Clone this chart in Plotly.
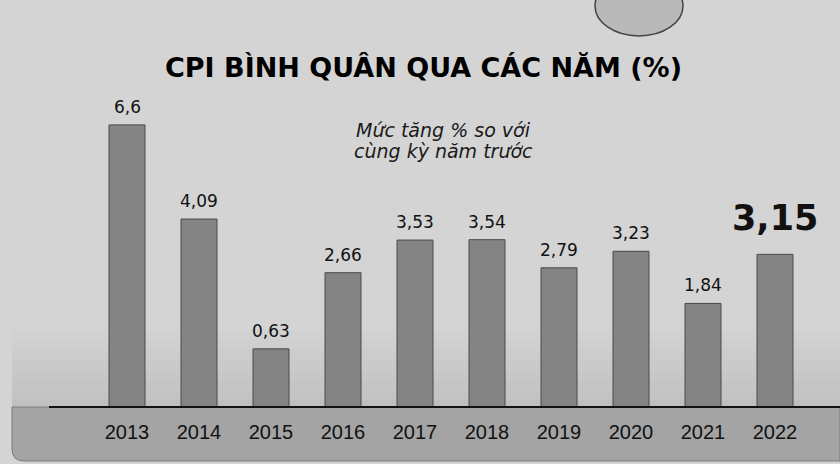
import plotly.graph_objects as go

# ---------------- data ----------------
YEARS = ["2013", "2014", "2015", "2016", "2017", "2018", "2019", "2020", "2021", "2022"]
CPI = [6.6, 4.09, 0.63, 2.66, 3.53, 3.54, 2.79, 3.23, 1.84, 3.15]
HIGHLIGHT_YEAR = "2022"
TITLE = "CPI BÌNH QUÂN QUA CÁC NĂM (%)"
SUBTITLE_LINES = ["Mức tăng % so với", "cùng kỳ năm trước"]

# visual baseline of the original infographic (bars rise from slightly below 0)
BASELINE_VALUE = -0.92
Y_MAX = 7.53

# ---------------- layout geometry ----------------
W, H = 840, 464
ML, MR, MT, MB = 91, 29, 90, 57
PW, PH = W - ML - MR, H - MT - MB


def px(x):
    return (x - ML) / PW


def py(y):
    return (H - MB - y) / PH


BG = "#d4d4d4"
BAR_FILL = "#848484"
BAR_LINE = "#4a4a4a"
INK = "#111111"


def fmt(v):
    return str(v).replace(".", ",")


fig = go.Figure()
fig.add_trace(go.Bar(
    x=YEARS,
    y=[v - BASELINE_VALUE for v in CPI],
    base=BASELINE_VALUE,
    marker=dict(color=BAR_FILL, line=dict(color=BAR_LINE, width=1)),
    hoverinfo="skip",
))

annotations = []
for i, (yr, v) in enumerate(zip(YEARS, CPI)):
    if yr == HIGHLIGHT_YEAR:
        annotations.append(dict(
            x=i, y=v, xref="x", yref="y", text=fmt(v), showarrow=False,
            yanchor="bottom", yshift=14,
            font=dict(family="DejaVu Sans", size=35, color=INK, weight="bold"),
        ))
    else:
        annotations.append(dict(
            x=i, y=v, xref="x", yref="y", text=fmt(v), showarrow=False,
            yanchor="bottom", yshift=6,
            font=dict(family="DejaVu Sans", size=17, color=INK),
        ))

annotations.append(dict(
    x=px(423), y=py(67), xref="paper", yref="paper", text=TITLE, showarrow=False,
    xanchor="center", yanchor="middle",
    font=dict(family="DejaVu Sans", size=27, color="#000000", weight="bold"),
))
for i, line in enumerate(SUBTITLE_LINES):
    annotations.append(dict(
        x=px(443), y=py(130 + i * 21), xref="paper", yref="paper", text=line,
        showarrow=False, xanchor="center", yanchor="middle",
        font=dict(family="DejaVu Sans", size=19, color="#1a1a1a", style="italic"),
    ))

shapes = []
# soft darkening toward the bottom of the panel
for k in range(8):
    y0 = 330 + k * 10
    shapes.append(dict(
        type="rect", xref="paper", yref="paper", layer="below",
        x0=px(12), x1=px(W), y0=py(y0 + 10), y1=py(y0),
        fillcolor="rgba(90,90,90,%.3f)" % (0.02 + 0.02 * k), line=dict(width=0),
    ))
# bottom band below the baseline with rounded lower-left corner
x0, x1, yt, yb, r = px(12), px(W), py(407), py(461), 12
rx, ry = r / PW, r / PH
shapes.append(dict(
    type="path", xref="paper", yref="paper", layer="below",
    path=(f"M {x0},{yt} L {x1},{yt} L {x1},{yb} L {x0 + rx},{yb} "
          f"Q {x0},{yb} {x0},{yb + ry} Z"),
    fillcolor="#a4a4a4", line=dict(color="#7a7a7a", width=1),
))
# baseline
shapes.append(dict(
    type="line", xref="paper", yref="paper", layer="above",
    x0=px(49), x1=px(W), y0=py(407), y1=py(407),
    line=dict(color="#111111", width=2),
))
# decorative ellipse at the top
shapes.append(dict(
    type="circle", xref="paper", yref="paper", layer="below",
    x0=px(595), x1=px(683), y0=py(36), y1=py(-24),
    fillcolor="#b9b9b9", line=dict(color="#444444", width=1.5),
))

fig.update_layout(
    width=W, height=H,
    margin=dict(l=ML, r=MR, t=MT, b=MB, pad=0),
    paper_bgcolor=BG, plot_bgcolor="rgba(0,0,0,0)",
    bargap=0.5, showlegend=False,
    annotations=annotations, shapes=shapes,
    xaxis=dict(
        type="category", range=[-0.5, len(YEARS) - 0.5],
        showgrid=False, zeroline=False, showline=False,
        ticks="", ticklabelstandoff=11,
        tickfont=dict(family="Liberation Sans", size=20, color=INK),
    ),
    yaxis=dict(range=[BASELINE_VALUE, Y_MAX], visible=False, fixedrange=True),
)

fig.write_html(
    "out.html",
    config={"displayModeBar": False, "staticPlot": True},
    post_script="document.body.style.margin='0';document.body.style.overflow='hidden';",
)
